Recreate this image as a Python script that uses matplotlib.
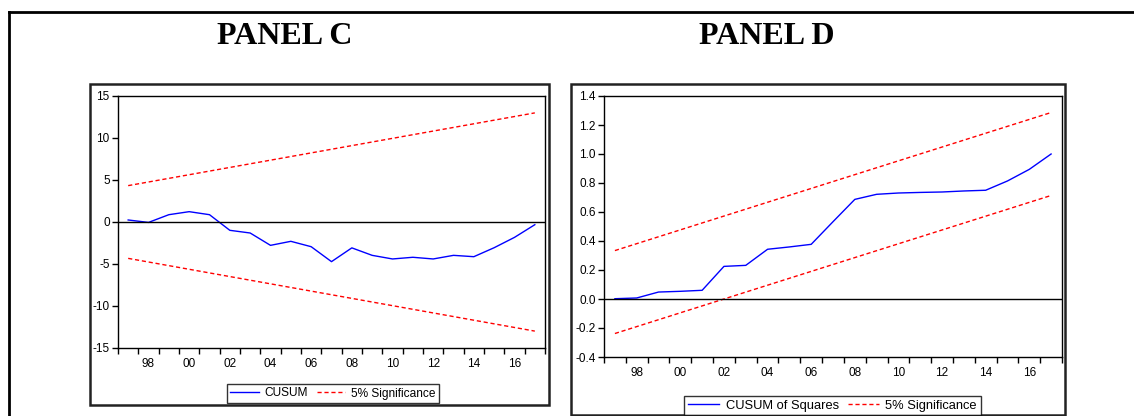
import matplotlib
matplotlib.use("Agg")
import matplotlib.pyplot as plt
from matplotlib.patches import Rectangle
from matplotlib.lines import Line2D

# ==================================================
# DATA
# ==================================================

years = list(range(1997, 2018))
bound_years = [1997, 2017]

cusum = [0.24, -0.05, 0.87, 1.23, 0.87, -0.99, -1.31, -2.78, -2.30, -2.94,
         -4.72, -3.08, -3.97, -4.40, -4.20, -4.40, -3.97, -4.13, -3.06, -1.83,
         -0.32]
cusum_upper = [4.33, 12.99]
cusum_lower = [-4.33, -12.99]

cusum_sq = [0.002, 0.007, 0.048, 0.053, 0.060, 0.225, 0.232, 0.343, 0.359,
            0.377, 0.533, 0.687, 0.722, 0.731, 0.735, 0.738, 0.745, 0.750,
            0.814, 0.894, 1.000]
cusum_sq_upper = [0.334, 1.286]
cusum_sq_lower = [-0.238, 0.714]

c_yticks = [-15, -10, -5, 0, 5, 10, 15]
d_yticks = [-0.4, -0.2, 0.0, 0.2, 0.4, 0.6, 0.8, 1.0, 1.2, 1.4]
x_labels = [1998, 2000, 2002, 2004, 2006, 2008, 2010, 2012, 2014, 2016]

# ==================================================
# FIGURE SETUP
# ==================================================

W, H = 1134, 416
plt.rcParams["font.family"] = ["Liberation Sans", "DejaVu Sans"]
plt.rcParams["axes.unicode_minus"] = False

fig = plt.figure(figsize=(W / 100, H / 100), dpi=100)


def px_rect(x0, y0, x1, y1):
    """Pixel box (top-left origin) -> figure fraction [l, b, w, h]."""
    return [x0 / W, 1 - y1 / H, (x1 - x0) / W, (y1 - y0) / H]


def frame_box(x0, y0, x1, y1, lw=1.8):
    l, b, w, h = px_rect(x0, y0, x1, y1)
    fig.patches.append(Rectangle((l, b), w, h, transform=fig.transFigure,
                                 fill=False, edgecolor="#222222", linewidth=lw))


# outer table lines (top and left)
fig.add_artist(Line2D([9 / W, 1], [1 - 12 / H, 1 - 12 / H],
                      transform=fig.transFigure, color="black", lw=2))
fig.add_artist(Line2D([9 / W, 9 / W], [0, 1 - 12 / H],
                      transform=fig.transFigure, color="black", lw=2))

# panel boxes
frame_box(90, 84, 549, 405)
frame_box(571, 84, 1065, 415)

fig.text(285 / W, 1 - 36 / H, "PANEL C", ha="center", va="center",
         family="Liberation Serif", fontweight="bold", fontsize=23)
fig.text(767 / W, 1 - 36 / H, "PANEL D", ha="center", va="center",
         family="Liberation Serif", fontweight="bold", fontsize=23)


# ==================================================
# PANELS
# ==================================================

def style_axes(ax, yticks, fmt):
    ax.set_xlim(1996.5, 2017.5)
    ax.set_ylim(yticks[0], yticks[-1])
    ax.set_yticks(yticks)
    ax.set_yticklabels([fmt.format(v) for v in yticks])
    ax.set_xticks(x_labels)
    ax.set_xticklabels(["%02d" % (y % 100) for y in x_labels])
    ax.set_xticks([y - 0.5 for y in years] + [2017.5], minor=True)
    ax.tick_params(axis="x", which="major", length=0, pad=7, labelsize=8.5)
    ax.tick_params(axis="x", which="minor", length=4, width=1, direction="out")
    ax.tick_params(axis="y", length=4, width=1, direction="out", pad=2,
                   labelsize=8.5)
    for s in ax.spines.values():
        s.set_linewidth(1)
    ax.axhline(0, color="black", lw=1)


ax_c = fig.add_axes(px_rect(118, 96, 545, 348))
ax_c.plot(years, cusum, color="#0000ff", lw=1, label="CUSUM")
ax_c.plot(bound_years, cusum_upper, color="#ff0000", lw=1, dashes=(3, 2),
          label="5% Significance")
ax_c.plot(bound_years, cusum_lower, color="#ff0000", lw=1, dashes=(3, 2))
style_axes(ax_c, c_yticks, "{:d}")

ax_d = fig.add_axes(px_rect(604, 96, 1062, 357))
ax_d.plot(years, cusum_sq, color="#0000ff", lw=1, label="CUSUM of Squares")
ax_d.plot(bound_years, cusum_sq_upper, color="#ff0000", lw=1, dashes=(3, 2),
          label="5% Significance")
ax_d.plot(bound_years, cusum_sq_lower, color="#ff0000", lw=1, dashes=(3, 2))
style_axes(ax_d, d_yticks, "{:.1f}")

# legends
for ax, cx, cy, fs in [(ax_c, 333, 393.5, 8.6), (ax_d, 832.5, 405.5, 9.3)]:
    leg = fig.legend(*ax.get_legend_handles_labels(), loc="center",
                     bbox_to_anchor=(cx / W, 1 - cy / H), ncol=2,
                     fontsize=fs, frameon=True, fancybox=False,
                     borderpad=0.3, handlelength=2.4, handletextpad=0.5,
                     columnspacing=0.7)
    leg.get_frame().set_edgecolor("black")
    leg.get_frame().set_linewidth(1)

fig.savefig("out.png", dpi=100)
